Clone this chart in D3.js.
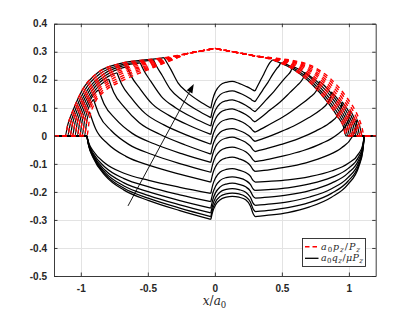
<!DOCTYPE html>
<html lang="en">
<head>
<meta charset="UTF-8">
<title>Contact tractions</title>
<script src="https://d3js.org/d3.v7.min.js"></script>
<style>
  body { margin: 0; background: #fff; }
  .tick text { font-family: "Liberation Sans", Arial, sans-serif; font-size: 10px; font-weight: bold; fill: #262626; }
  .math { font-family: "DejaVu Serif", "Liberation Serif", serif; fill: #262626; }
</style>
</head>
<body>
<div id="chart"></div>
<script>
// ---- data ----
const xTicks = [-1, -0.5, 0, 0.5, 1];
const xTickLabels = ["-1", "-0.5", "0", "0.5", "1"];
const yTicks = [-0.5, -0.4, -0.3, -0.2, -0.1, 0, 0.1, 0.2, 0.3, 0.4];
const yTickLabels = ["-0.5", "-0.4", "-0.3", "-0.2", "-0.1", "0", "0.1", "0.2", "0.3", "0.4"];

// pressure curves a0 p_z / P_z : left flank (edge .. -0.3), shared top, right flank
const redLeft = [
  [[-1.117,0],[-1.097,0.040],[-1.057,0.092],[-0.987,0.165],[-0.867,0.228],[-0.717,0.257],[-0.5,0.272],[-0.4,0.277],[-0.3,0.285]],
  [[-1.099,0],[-1.079,0.042],[-1.039,0.095],[-0.969,0.164],[-0.849,0.224],[-0.699,0.253],[-0.5,0.268],[-0.4,0.275],[-0.3,0.284]],
  [[-1.081,0],[-1.061,0.045],[-1.021,0.098],[-0.951,0.163],[-0.831,0.220],[-0.681,0.250],[-0.5,0.264],[-0.4,0.272],[-0.3,0.283]],
  [[-1.063,0],[-1.043,0.047],[-1.003,0.101],[-0.933,0.163],[-0.813,0.216],[-0.663,0.246],[-0.5,0.260],[-0.4,0.270],[-0.3,0.281]],
  [[-1.045,0],[-1.025,0.050],[-0.985,0.104],[-0.915,0.162],[-0.795,0.212],[-0.645,0.243],[-0.5,0.256],[-0.4,0.267],[-0.3,0.280]],
  [[-1.027,0],[-1.007,0.052],[-0.967,0.106],[-0.897,0.161],[-0.777,0.209],[-0.627,0.239],[-0.5,0.251],[-0.4,0.265],[-0.3,0.279]],
  [[-1.009,0],[-0.989,0.055],[-0.949,0.109],[-0.879,0.160],[-0.759,0.205],[-0.609,0.236],[-0.5,0.247],[-0.4,0.262],[-0.3,0.278]],
  [[-0.991,0],[-0.971,0.057],[-0.931,0.112],[-0.861,0.160],[-0.741,0.201],[-0.591,0.232],[-0.5,0.243],[-0.4,0.260],[-0.3,0.276]],
  [[-0.973,0],[-0.953,0.060],[-0.913,0.115],[-0.843,0.159],[-0.723,0.197],[-0.573,0.229],[-0.5,0.239],[-0.4,0.257],[-0.3,0.275]],
  [[-0.955,0],[-0.935,0.062],[-0.895,0.118],[-0.825,0.158],[-0.705,0.193],[-0.555,0.225],[-0.5,0.235],[-0.4,0.255],[-0.3,0.274]]
];
const redTop = [[-0.2,0.294],[-0.1,0.303],[-0.01,0.311],[0,0.312],[0.01,0.311],[0.1,0.303],[0.2,0.294],[0.3,0.285]];
const redRight = [
  [[0.42,0.273],[0.499,0.258],[0.578,0.239],[0.728,0.182],[0.848,0.116],[0.918,0.067],[0.958,0.035],[0.978,0]],
  [[0.42,0.274],[0.5065,0.259],[0.593,0.240],[0.743,0.184],[0.863,0.118],[0.933,0.069],[0.973,0.035],[0.993,0]],
  [[0.42,0.274],[0.514,0.260],[0.608,0.242],[0.758,0.187],[0.878,0.120],[0.948,0.071],[0.988,0.035],[1.008,0]],
  [[0.42,0.275],[0.522,0.262],[0.624,0.243],[0.774,0.189],[0.894,0.123],[0.964,0.072],[1.004,0.035],[1.024,0]],
  [[0.42,0.276],[0.5295,0.263],[0.639,0.244],[0.789,0.191],[0.909,0.125],[0.979,0.074],[1.019,0.035],[1.039,0]],
  [[0.42,0.276],[0.537,0.264],[0.654,0.246],[0.804,0.194],[0.924,0.127],[0.994,0.076],[1.034,0.035],[1.054,0]],
  [[0.42,0.277],[0.5445,0.266],[0.669,0.247],[0.819,0.196],[0.939,0.129],[1.009,0.078],[1.049,0.035],[1.069,0]],
  [[0.42,0.278],[0.552,0.267],[0.684,0.248],[0.834,0.198],[0.954,0.132],[1.024,0.079],[1.064,0.035],[1.084,0]],
  [[0.42,0.278],[0.56,0.268],[0.700,0.250],[0.850,0.201],[0.970,0.134],[1.040,0.081],[1.080,0.035],[1.100,0]],
  [[0.42,0.279],[0.5675,0.270],[0.715,0.251],[0.865,0.203],[0.985,0.136],[1.055,0.083],[1.095,0.035],[1.115,0]]
];

// shear curves a0 q_z / mu P_z (top curve first); which pressure curve each one slips along
const blackRed = [0, 1, 2, 3, 4, 5, 6, 7, 8, 9, 9, 9, 9, 9, 9];
// stick zone, left arc: from slip/stick point down to the kink at x = -0.03
const stickLeft = [
  [[-0.38,0.279],[-0.3625,0.265],[-0.3275,0.236],[-0.275,0.189],[-0.205,0.155],[-0.1175,0.124],[-0.03,0.099]],
  [[-0.458,0.271],[-0.4366,0.250],[-0.3938,0.216],[-0.3296,0.1645],[-0.244,0.127],[-0.137,0.093],[-0.03,0.065]],
  [[-0.556,0.26],[-0.5297,0.233],[-0.4771,0.194],[-0.3982,0.140],[-0.293,0.1005],[-0.1615,0.0647],[-0.03,0.035]],
  [[-0.655,0.247],[-0.6238,0.213],[-0.5613,0.170],[-0.4675,0.114],[-0.3425,0.073],[-0.1863,0.036],[-0.03,0.005]],
  [[-0.73,0.225],[-0.695,0.184],[-0.625,0.1365],[-0.52,0.080],[-0.38,0.039],[-0.205,0.0016],[-0.03,-0.03]],
  [[-0.792,0.203],[-0.7539,0.155],[-0.6777,0.103],[-0.5634,0.047],[-0.411,0.0055],[-0.2205,-0.0326],[-0.03,-0.065]],
  [[-0.867,0.1645],[-0.8252,0.1126],[-0.7415,0.0607],[-0.6159,0.0088],[-0.4485,-0.0293],[-0.2423,-0.0646],[-0.03,-0.095]],
  [[-0.905,0.130],[-0.8613,0.0728],[-0.7738,0.019],[-0.6425,-0.0304],[-0.4675,-0.0666],[-0.2488,-0.1006],[-0.03,-0.13]],
  [[-0.935,0.085],[-0.8898,0.025],[-0.7993,-0.0282],[-0.6635,-0.0732],[-0.4825,-0.1065],[-0.2563,-0.1377],[-0.03,-0.165]],
  [[-0.955,0],[-0.9411,-0.0246],[-0.9088,-0.0533],[-0.8163,-0.0984],[-0.6775,-0.1333],[-0.4925,-0.1589],[-0.2613,-0.1835],[-0.03,-0.205]],
  [[-0.955,0],[-0.9411,-0.0282],[-0.9088,-0.0611],[-0.8163,-0.1128],[-0.6775,-0.1528],[-0.4925,-0.1821],[-0.2613,-0.2103],[-0.03,-0.235]],
  [[-0.955,0],[-0.9411,-0.031],[-0.9088,-0.0671],[-0.8163,-0.1238],[-0.6775,-0.1677],[-0.4925,-0.2],[-0.2613,-0.2309],[-0.03,-0.258]],
  [[-0.955,0],[-0.9411,-0.033],[-0.9088,-0.0715],[-0.8163,-0.132],[-0.6775,-0.1788],[-0.4925,-0.2131],[-0.2613,-0.2461],[-0.03,-0.275]],
  [[-0.955,0],[-0.9411,-0.0346],[-0.9088,-0.0749],[-0.8163,-0.1382],[-0.6775,-0.1872],[-0.4925,-0.2232],[-0.2613,-0.2578],[-0.03,-0.288]],
  [[-0.955,0],[-0.9411,-0.0358],[-0.9088,-0.0775],[-0.8163,-0.143],[-0.6775,-0.1937],[-0.4925,-0.231],[-0.2613,-0.2667],[-0.03,-0.298]]
];
// bump between the kink (x=-0.03) and the dip (x=0.3)
const bumpX = [-0.03, -0.015, 0.005, 0.04, 0.085, 0.13, 0.18, 0.23, 0.265, 0.285, 0.3];
const bumpY = [
  [0.099,0.132,0.158,0.181,0.191,0.194,0.187,0.177,0.169,0.163,0.160],
  [0.065,0.098,0.124,0.147,0.157,0.160,0.153,0.142,0.132,0.125,0.122],
  [0.035,0.068,0.093,0.115,0.125,0.128,0.121,0.109,0.098,0.090,0.086],
  [0.005,0.037,0.061,0.083,0.093,0.096,0.088,0.076,0.064,0.054,0.050],
  [-0.030,0.002,0.026,0.048,0.058,0.061,0.054,0.042,0.029,0.018,0.013],
  [-0.065,-0.033,-0.009,0.013,0.023,0.026,0.019,0.008,-0.004,-0.015,-0.020],
  [-0.095,-0.064,-0.039,-0.018,-0.008,-0.005,-0.012,-0.023,-0.037,-0.050,-0.056],
  [-0.130,-0.099,-0.074,-0.053,-0.043,-0.040,-0.046,-0.057,-0.072,-0.086,-0.092],
  [-0.165,-0.134,-0.110,-0.089,-0.079,-0.076,-0.082,-0.092,-0.106,-0.121,-0.127],
  [-0.205,-0.174,-0.150,-0.129,-0.120,-0.117,-0.122,-0.131,-0.144,-0.159,-0.165],
  [-0.235,-0.204,-0.180,-0.159,-0.149,-0.146,-0.150,-0.159,-0.173,-0.189,-0.195],
  [-0.258,-0.227,-0.203,-0.182,-0.172,-0.169,-0.173,-0.182,-0.197,-0.215,-0.222],
  [-0.275,-0.245,-0.221,-0.200,-0.191,-0.188,-0.192,-0.201,-0.219,-0.240,-0.248],
  [-0.288,-0.259,-0.236,-0.216,-0.207,-0.204,-0.207,-0.217,-0.236,-0.260,-0.270],
  [-0.298,-0.269,-0.247,-0.228,-0.219,-0.216,-0.219,-0.228,-0.250,-0.277,-0.288]
];
// stick zone, right arc: from the dip at x=0.3 up to the stick/slip point
const stickRight = [
  [[0.3,0.16],[0.339,0.1966],[0.365,0.22],[0.391,0.2455],[0.4105,0.261],[0.43,0.271]],
  [[0.3,0.122],[0.3285,0.142],[0.357,0.163],[0.395,0.190],[0.433,0.220],[0.4615,0.240],[0.4805,0.2505],[0.49,0.260]],
  [[0.3,0.086],[0.342,0.107],[0.384,0.129],[0.44,0.158],[0.496,0.191],[0.538,0.214],[0.566,0.230],[0.58,0.247]],
  [[0.3,0.05],[0.3555,0.070],[0.411,0.092],[0.485,0.120],[0.559,0.154],[0.6145,0.180],[0.6515,0.200],[0.6645,0.213],[0.67,0.226]],
  [[0.3,0.013],[0.372,0.031],[0.444,0.050],[0.54,0.077],[0.636,0.110],[0.708,0.137],[0.756,0.160],[0.7728,0.177],[0.78,0.194]],
  [[0.3,-0.02],[0.3855,-0.0055],[0.471,0.0108],[0.585,0.0343],[0.699,0.0643],[0.7845,0.091],[0.8415,0.1174],[0.8615,0.1365],[0.87,0.157]],
  [[0.3,-0.056],[0.3975,-0.044],[0.495,-0.0307],[0.625,-0.010],[0.755,0.0178],[0.8525,0.0449],[0.9175,0.0744],[0.9403,0.0968],[0.95,0.121]],
  [[0.3,-0.092],[0.4065,-0.0827],[0.513,-0.0716],[0.655,-0.0532],[0.797,-0.0268],[0.9035,0.0014],[0.9745,0.035],[0.9994,0.0612],[1.01,0.090]],
  [[0.3,-0.127],[0.414,-0.1203],[0.528,-0.112],[0.68,-0.0961],[0.832,-0.0717],[0.946,-0.0425],[1.022,-0.0051],[1.0486,0.0249],[1.06,0.058]],
  [[0.3,-0.165],[0.4223,-0.1617],[0.5445,-0.1568],[0.7075,-0.1452],[0.8705,-0.1254],[0.9928,-0.099],[1.0743,-0.0627],[1.1028,-0.033],[1.115,0]],
  [[0.3,-0.195],[0.4223,-0.1911],[0.5445,-0.1853],[0.7075,-0.1716],[0.8705,-0.1482],[0.9928,-0.117],[1.0743,-0.0741],[1.1028,-0.039],[1.115,0]],
  [[0.3,-0.222],[0.4223,-0.2176],[0.5445,-0.2109],[0.7075,-0.1954],[0.8705,-0.1687],[0.9928,-0.1332],[1.0743,-0.0844],[1.1028,-0.0444],[1.115,0]],
  [[0.3,-0.248],[0.4223,-0.243],[0.5445,-0.2356],[0.7075,-0.2182],[0.8705,-0.1885],[0.9928,-0.1488],[1.0743,-0.0942],[1.1028,-0.0496],[1.115,0]],
  [[0.3,-0.27],[0.4223,-0.2646],[0.5445,-0.2565],[0.7075,-0.2376],[0.8705,-0.2052],[0.9928,-0.162],[1.0743,-0.1026],[1.1028,-0.054],[1.115,0]],
  [[0.3,-0.288],[0.4223,-0.2822],[0.5445,-0.2736],[0.7075,-0.2534],[0.8705,-0.2189],[0.9928,-0.1728],[1.0743,-0.1094],[1.1028,-0.0576],[1.115,0]]
];

const arrowTail = [-0.648, -0.25];
const arrowTip = [-0.157, 0.185];

// ---- drawing ----
const W = 415, H = 312;
const svg = d3.select("#chart").append("svg").attr("width", W).attr("height", H);

const x = d3.scaleLinear().domain([-1.2, 1.2]).range([54, 375.7]);
const y = d3.scaleLinear().domain([-0.5, 0.4]).range([276, 23.7]);

// grid
const grid = svg.append("g").attr("stroke", "#e3e3e3").attr("stroke-width", 1);
grid.selectAll(".gx").data(xTicks).join("line")
  .attr("x1", d => Math.round(x(d)) + 0.5).attr("x2", d => Math.round(x(d)) + 0.5)
  .attr("y1", y(-0.5)).attr("y2", y(0.4));
grid.selectAll(".gy").data(yTicks).join("line")
  .attr("x1", x(-1.2)).attr("x2", x(1.2))
  .attr("y1", d => Math.round(y(d)) + 0.5).attr("y2", d => Math.round(y(d)) + 0.5);

const line = d3.line().x(d => x(d[0])).y(d => y(d[1])).curve(d3.curveMonotoneX);

const redFull = redLeft.map((L, j) => [[-1.2, 0]].concat(L, redTop, redRight[j], [[1.2, 0]]));

// shear curves (under the pressure curves)
const gb = svg.append("g").attr("fill", "none").attr("stroke", "#000").attr("stroke-width", 1.25);
blackRed.forEach((j, k) => {
  const full = redFull[j];
  const L = stickLeft[k], R = stickRight[k];
  const cusp = L[0], join = R[R.length - 1];
  const segs = [
    full.filter(p => p[0] < cusp[0]).concat([cusp]),
    L,
    bumpX.map((bx, i) => [bx, bumpY[k][i]]),
    R,
    [join].concat(full.filter(p => p[0] > join[0]))
  ];
  segs.forEach(s => gb.append("path").attr("d", line(s)));
});

// pressure curves
svg.append("g").selectAll("path").data(redFull).join("path")
  .attr("d", line)
  .attr("fill", "none").attr("stroke", "#ff0000").attr("stroke-width", 1.4)
  .attr("stroke-dasharray", "4.5,4");

// arrow
const ax0 = x(arrowTail[0]), ay0 = y(arrowTail[1]), ax1 = x(arrowTip[0]), ay1 = y(arrowTip[1]);
const ang = Math.atan2(ay1 - ay0, ax1 - ax0);
const hl = 9, hw = 3.2;
const bx = ax1 - hl * Math.cos(ang), by = ay1 - hl * Math.sin(ang);
svg.append("line").attr("x1", ax0).attr("y1", ay0).attr("x2", bx).attr("y2", by)
  .attr("stroke", "#000").attr("stroke-width", 0.9);
svg.append("path")
  .attr("d", `M${ax1},${ay1}L${bx + hw * Math.sin(ang)},${by - hw * Math.cos(ang)}L${bx - hw * Math.sin(ang)},${by + hw * Math.cos(ang)}Z`)
  .attr("fill", "#000");

// axes, box and inward ticks
const axCol = "#262626";
const gx = svg.append("g").attr("transform", `translate(0,${y(-0.5)})`)
  .call(d3.axisBottom(x).tickValues(xTicks).tickFormat((d, i) => xTickLabels[i])
    .tickSizeInner(-3.5).tickSizeOuter(0).tickPadding(9));
const gy = svg.append("g").attr("transform", `translate(${x(-1.2)},0)`)
  .call(d3.axisLeft(y).tickValues(yTicks).tickFormat((d, i) => yTickLabels[i])
    .tickSizeInner(-3.5).tickSizeOuter(0).tickPadding(7));
const gt = svg.append("g").attr("transform", `translate(0,${y(0.4)})`)
  .call(d3.axisTop(x).tickValues(xTicks).tickFormat("").tickSizeInner(-3.5).tickSizeOuter(0));
const gr = svg.append("g").attr("transform", `translate(${x(1.2)},0)`)
  .call(d3.axisRight(y).tickValues(yTicks).tickFormat("").tickSizeInner(-3.5).tickSizeOuter(0));
[gx, gy, gt, gr].forEach(g => {
  g.selectAll(".domain, .tick line").attr("stroke", axCol).attr("stroke-width", 0.9);
  g.attr("font-family", null).attr("font-size", null);
});

// x label  x/a_0
const xl = svg.append("text").attr("class", "math").attr("x", 214.5).attr("y", 305)
  .attr("text-anchor", "middle").attr("font-size", 12);
xl.append("tspan").attr("font-style", "italic").text("x");
xl.append("tspan").text("/");
xl.append("tspan").attr("font-style", "italic").text("a");
xl.append("tspan").attr("font-size", 8.5).attr("dy", 2.5).text("0");

// legend
const legendItems = [
  { color: "#ff0000", dash: "4.5,3", parts: [["a","i"],["0","s"],["p","i"],["z","si"],["/",""],["P","i"],["z","si"]] },
  { color: "#000", dash: null, parts: [["a","i"],["0","s"],["q","i"],["z","si"],["/",""],["\u03BC","i"],["P","i"],["z","si"]] }
];
const lg = svg.append("g");
lg.append("rect").attr("x", 302.5).attr("y", 238.5).attr("width", 63).attr("height", 28)
  .attr("fill", "#fff").attr("stroke", axCol).attr("stroke-width", 0.9);
legendItems.forEach((it, i) => {
  const ly = 246.7 + i * 11.6;
  lg.append("line").attr("x1", 305).attr("x2", 318.5).attr("y1", ly).attr("y2", ly)
    .attr("stroke", it.color).attr("stroke-width", it.dash ? 1.4 : 1.3)
    .attr("stroke-dasharray", it.dash);
  const t = lg.append("text").attr("class", "math").attr("x", 321).attr("y", ly + 3)
    .attr("font-size", 9.5).attr("textLength", i === 0 ? 39 : 42).attr("lengthAdjust", "spacing");
  let shifted = false;
  it.parts.forEach(([s, f]) => {
    const sp = t.append("tspan").text(s);
    if (f.includes("i")) sp.attr("font-style", "italic");
    const sub = f.includes("s");
    if (sub) sp.attr("font-size", 7);
    if (sub && !shifted) { sp.attr("dy", 2); shifted = true; }
    else if (!sub && shifted) { sp.attr("dy", -2); shifted = false; }
  });
});
</script>
</body>
</html>
